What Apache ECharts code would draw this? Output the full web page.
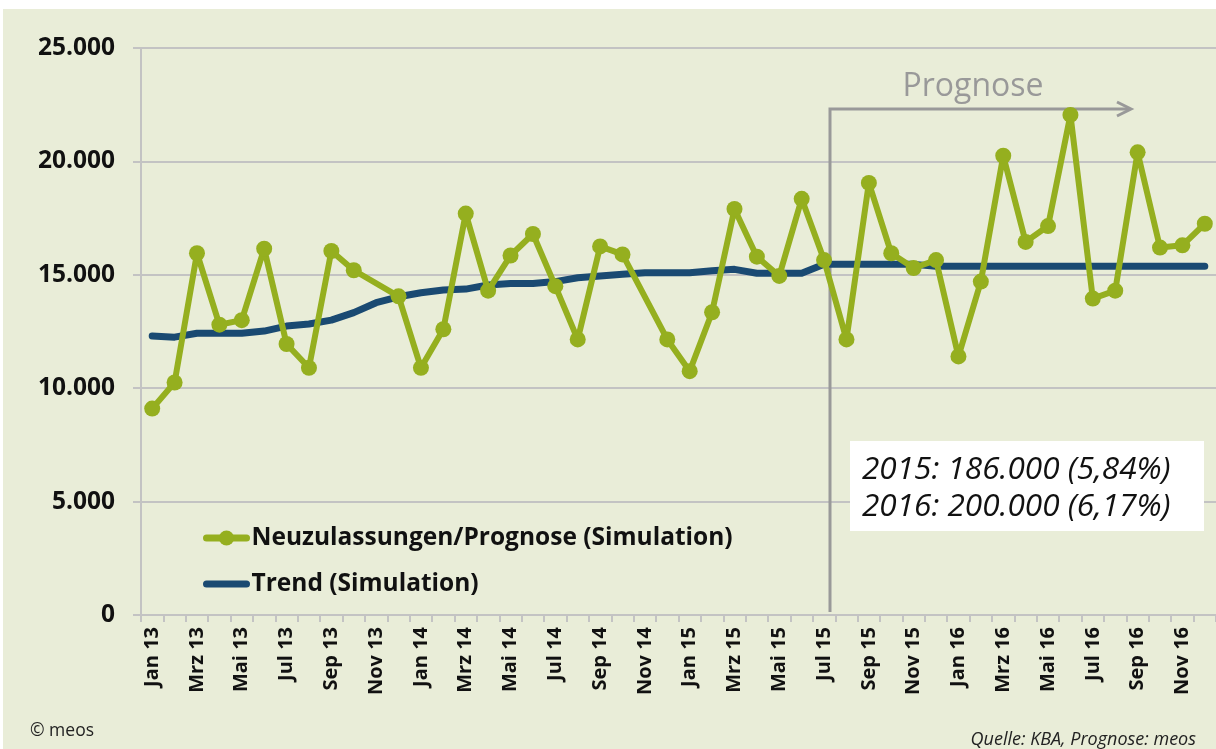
<!DOCTYPE html>
<html>
<head>
<meta charset="utf-8">
<script src="https://cdn.jsdelivr.net/npm/echarts@6/dist/echarts.min.js"></script>
<style>
html,body{margin:0;padding:0;background:#ffffff;width:1216px;height:749px;overflow:hidden;}
#chart{position:absolute;left:3px;top:9px;width:1213px;height:740px;}
</style>
</head>
<body>
<div id="chart"></div>
<script>
// ---- data ----
const categories = [
  'Jan 13','Feb 13','Mrz 13','Apr 13','Mai 13','Jun 13','Jul 13','Aug 13','Sep 13','Okt 13','Nov 13','Dez 13',
  'Jan 14','Feb 14','Mrz 14','Apr 14','Mai 14','Jun 14','Jul 14','Aug 14','Sep 14','Okt 14','Nov 14','Dez 14',
  'Jan 15','Feb 15','Mrz 15','Apr 15','Mai 15','Jun 15','Jul 15','Aug 15','Sep 15','Okt 15','Nov 15','Dez 15',
  'Jan 16','Feb 16','Mrz 16','Apr 16','Mai 16','Jun 16','Jul 16','Aug 16','Sep 16','Okt 16','Nov 16','Dez 16'
];
const neuzulassungen = [
  9100, 10250, 15950, 12800, 13000, 16150, 11950, 10900, 16050, 15200, null, 14050,
  10900, 12600, 17700, 14300, 15850, 16800, 14500, 12150, 16250, 15900, null, 12150,
  10750, 13350, 17900, 15800, 14950, 18350, 15650, 12150, 19050, 15950, 15300, 15650,
  11400, 14700, 20250, 16450, 17150, 22050, 13950, 14300, 20400, 16200, 16300, 17250
];
const trend = [
  12300, 12250, 12420, 12420, 12420, 12520, 12740, 12830, 13000, 13330, 13770, 14030,
  14210, 14330, 14370, 14550, 14620, 14620, 14700, 14870, 14950, 15020, 15090, 15090,
  15090, 15180, 15240, 15070, 15070, 15070, 15460, 15460, 15460, 15460, 15460, 15380,
  15380, 15380, 15380, 15380, 15380, 15380, 15380, 15380, 15380, 15380, 15380, 15380
];
const yTicks = [0, 5000, 10000, 15000, 20000, 25000];
const seriesNames = ['Neuzulassungen/Prognose (Simulation)', 'Trend (Simulation)'];
const boxLines = ['2015: 186.000 (5,84%)', '2016: 200.000 (6,17%)'];

const FONT = '"Open Sans", "Noto Sans", sans-serif';
const GREEN = '#95af1f';
const BLUE = '#1a4a72';
const GRID = '#c3c3c3';
const ANNO = '#999999';

function fmt(v){ return v === 0 ? '0' : String(v).replace(/\B(?=(\d{3})+(?!\d))/g, '.'); }

const chart = echarts.init(document.getElementById('chart'), null, {renderer:'canvas'});
chart.setOption({
  backgroundColor: '#e9edd8',
  animation: false,
  textStyle: {fontFamily: FONT},
  grid: {left: 138, top: 39, bottom: 134, width: 1077.6},
  legend: {
    orient: 'vertical', left: 195, top: 507, itemGap: 12,
    itemWidth: 40, itemHeight: 19,
    lineStyle: {width: 7, cap: 'round'},
    textStyle: {fontFamily: FONT, fontSize: 24.5, fontWeight: 'bold', color: '#111', lineHeight: 34},
    data: [
      {name: seriesNames[0]},
      {name: seriesNames[1], itemStyle: {color: 'rgba(0,0,0,0)', borderWidth: 0, opacity: 0}}
    ]
  },
  xAxis: {
    type: 'category', data: categories, boundaryGap: true,
    axisLine: {lineStyle: {color: GRID, width: 2}},
    axisTick: {show: true, interval: 0, length: 7, lineStyle: {color: GRID, width: 2}},
    axisLabel: {interval: 1, rotate: 90, margin: 12, fontFamily: FONT, fontSize: 20, fontWeight: 'bold', color: '#111'}
  },
  yAxis: {
    type: 'value', min: yTicks[0], max: yTicks[yTicks.length-1], interval: yTicks[1]-yTicks[0],
    axisLine: {show: true, lineStyle: {color: GRID, width: 2}},
    axisTick: {show: true, length: 8, lineStyle: {color: GRID, width: 2}},
    splitLine: {lineStyle: {color: GRID, width: 2}},
    axisLabel: {margin: 26, fontFamily: FONT, fontSize: 24.5, fontWeight: 'bold', color: '#111', formatter: fmt}
  },
  series: [
    {
      name: seriesNames[1], type: 'line', data: trend, z: 2,
      symbol: 'none', showSymbol: false,
      lineStyle: {color: BLUE, width: 7, cap: 'round', join: 'round'},
      itemStyle: {color: BLUE}
    },
    {
      name: seriesNames[0], type: 'line', data: neuzulassungen, connectNulls: true, z: 3,
      symbol: 'circle', symbolSize: 16, showAllSymbol: true,
      lineStyle: {color: GREEN, width: 6, join: 'round'},
      itemStyle: {color: GREEN}
    }
  ],
  graphic: [
    {type: 'polyline', shape: {points: [[827, 603], [827, 100], [1127, 100]]}, style: {stroke: ANNO, lineWidth: 3, fill: null}, z: 1},
    {type: 'polyline', shape: {points: [[1114, 93], [1128, 100], [1114, 107]]}, style: {stroke: ANNO, lineWidth: 3, fill: null, lineJoin: 'miter'}, z: 1},
    {type: 'text', x: 970, y: 78, style: {text: 'Prognose', fill: ANNO, font: '32px ' + FONT, align: 'center', verticalAlign: 'middle'}, z: 10},
    {type: 'rect', shape: {x: 847, y: 432, width: 354, height: 90}, style: {fill: '#ffffff'}, z: 10},
    {type: 'text', x: 859, y: 461, style: {text: boxLines[0], fill: '#111', font: 'italic 31.5px ' + FONT, align: 'left', verticalAlign: 'middle'}, z: 11},
    {type: 'text', x: 859, y: 498, style: {text: boxLines[1], fill: '#111', font: 'italic 31.5px ' + FONT, align: 'left', verticalAlign: 'middle'}, z: 11},
    {type: 'text', x: 27, y: 722, style: {text: '© meos', fill: '#222', font: '17.5px ' + FONT, align: 'left', verticalAlign: 'middle'}, z: 10},
    {type: 'text', x: 1193, y: 731, style: {text: 'Quelle: KBA, Prognose: meos', fill: '#222', font: 'italic 18px ' + FONT, align: 'right', verticalAlign: 'middle'}, z: 10}
  ]
});
</script>
</body>
</html>
